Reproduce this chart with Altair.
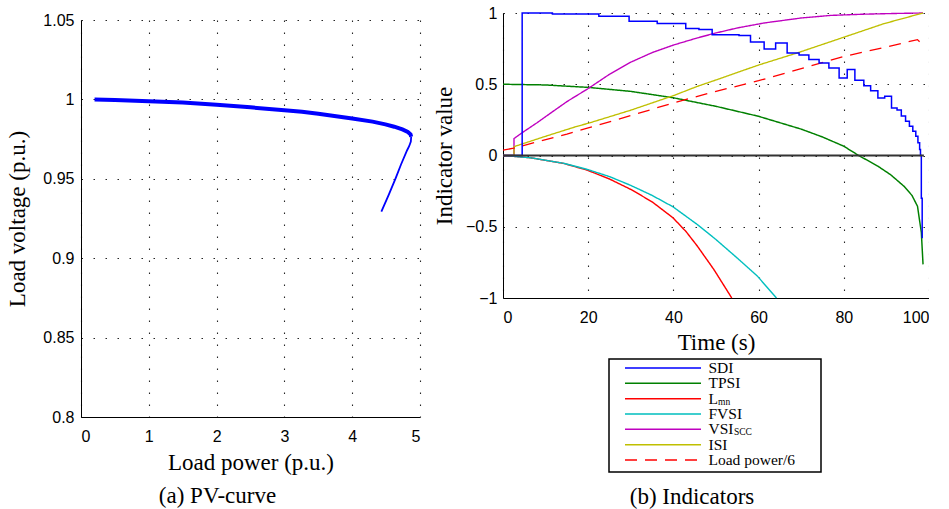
import altair as alt
import pandas as pd

# ---------------- (a) PV-curve data ----------------
pv_upper_p = [0.2, 0.5, 1.0, 1.5, 2.0, 2.5, 3.0, 3.26, 3.5, 4.0, 4.3, 4.49, 4.62, 4.74, 4.82, 4.86, 4.87]
pv_upper_v = [1.0, 0.9997, 0.9989, 0.998, 0.9966, 0.995, 0.9932, 0.9922, 0.991, 0.988, 0.986, 0.9843, 0.9828, 0.9811, 0.9795, 0.978, 0.9765]
pv_lower_p = [4.87, 4.865, 4.84, 4.81, 4.72, 4.64, 4.54, 4.43]
pv_lower_v = [0.9765, 0.9735, 0.9705, 0.968, 0.959, 0.9503, 0.940, 0.9293]

# ---------------- (b) Indicators data ----------------
sdi_t = [0, 4.5, 11.6, 22.5, 29.6, 36.2, 42.9, 46.0, 49.1, 55.4, 58.1, 61.3, 64.0, 66.7, 69.5, 71.8, 74.2, 76.5, 78.9, 80.8,
         82.6, 84.7, 86.3, 88.0, 89.6, 91.2, 92.5, 93.5, 94.5, 95.4, 96.2, 96.9, 97.4, 97.8, 98.0, 98.2, 98.4]
sdi_v = [0, 1.0, 0.993, 0.978, 0.942, 0.927, 0.892, 0.885, 0.848, 0.842, 0.797, 0.748, 0.79, 0.72, 0.706, 0.673, 0.65, 0.614, 0.544, 0.603,
         0.528, 0.49, 0.455, 0.404, 0.416, 0.334, 0.32, 0.278, 0.24, 0.205, 0.17, 0.135, 0.089, 0.042, 0.0, -0.3, -0.58]
tpsi_t = [0, 10, 20, 30, 40, 50, 60, 70, 75, 80, 83.5, 88, 91, 94.1, 96, 97.3, 98.2, 98.6]
tpsi_v = [0.5, 0.495, 0.478, 0.45, 0.405, 0.345, 0.275, 0.185, 0.13, 0.065, 0.0, -0.075, -0.135, -0.215, -0.28, -0.356, -0.54, -0.764]
lmn_t = [0, 6.5, 14.3, 19.8, 25, 30, 35, 39.9, 43, 45.6, 49.5, 53.7]
lmn_v = [0, -0.016, -0.056, -0.103, -0.165, -0.238, -0.325, -0.437, -0.535, -0.635, -0.8, -1.0]
fvsi_t = [0, 6.5, 14.3, 19.8, 25, 30, 35, 39.9, 45.6, 50, 55, 59.7, 64.2]
fvsi_v = [0, -0.016, -0.055, -0.098, -0.148, -0.21, -0.28, -0.36, -0.484, -0.59, -0.72, -0.846, -1.0]
vsi_t = [0, 2.58, 2.58, 4.5, 8, 12, 15.1, 20, 25, 30, 35, 40, 45.6, 50, 55, 61.3, 70, 76.9, 85, 92.6, 98.6]
vsi_v = [0, 0, 0.119, 0.16, 0.23, 0.315, 0.38, 0.47, 0.57, 0.655, 0.722, 0.775, 0.825, 0.86, 0.895, 0.93, 0.965, 0.983, 0.992, 0.997, 1.0]
isi_t = [0, 2.58, 2.58, 10, 17.4, 20, 30, 40, 45.6, 50, 60, 69.1, 80, 89.4, 98.6]
isi_v = [0, 0, 0.062, 0.135, 0.205, 0.226, 0.318, 0.42, 0.485, 0.53, 0.635, 0.72, 0.83, 0.925, 1.0]
load_t = [0, 2.5, 8, 15, 20, 30, 40, 50, 60, 70, 80, 88, 94, 97.3, 98.5]
load_v = [0.037, 0.052, 0.095, 0.15, 0.194, 0.28, 0.369, 0.45, 0.525, 0.61, 0.695, 0.748, 0.79, 0.813, 0.778]
zero_t = [0, 98.8]
zero_v = [0, 0]

series_names = ["SDI", "TPSI", "Lmn", "FVSI", "VSIscc", "ISI", "Load power/6"]
legend_main = ["SDI", "TPSI", "L", "FVSI", "VSI", "ISI", "Load power/6"]
legend_sub = ["", "", "mn", "", "SCC", "", ""]
series_colors = ["#0000ff", "#008000", "#ff0000", "#00bfbf", "#bf00bf", "#bfbf00", "#ff0000"]
series_dash = [[1, 0], [1, 0], [1, 0], [1, 0], [1, 0], [1, 0], [12, 8]]
series_width = [1.5, 1.3, 2.2, 2.2, 1.3, 1.3, 1.6]

SANS = "Liberation Sans"
SERIF = "Liberation Serif"

# ---------------- build tables ----------------
pv_rows = []
for i, (p, v) in enumerate(zip(pv_upper_p, pv_upper_v)):
    pv_rows.append({"P": p, "V": v, "k": i, "branch": "upper"})
for i, (p, v) in enumerate(zip(pv_lower_p, pv_lower_v)):
    pv_rows.append({"P": p, "V": v, "k": i, "branch": "lower"})
pv_df = pd.DataFrame(pv_rows)

series_data = [(sdi_t, sdi_v), (tpsi_t, tpsi_v), (lmn_t, lmn_v), (fvsi_t, fvsi_v),
               (vsi_t, vsi_v), (isi_t, isi_v), (load_t, load_v)]
ind_rows = []
for name, (ts, vs) in zip(series_names, series_data):
    for k, (t, v) in enumerate(zip(ts, vs)):
        ind_rows.append({"series": name, "t": t, "v": v, "k": k})
ind_df = pd.DataFrame(ind_rows)
zero_df = pd.DataFrame({"t": zero_t, "v": zero_v})
leg_df = pd.DataFrame({"series": series_names, "main": legend_main, "sub": legend_sub})


def axis(values, **kw):
    base = dict(values=values, format="~r", labelFont=SANS, labelFontSize=16, labelColor="black",
                titleFont=SERIF, titleFontSize=23, titleFontWeight="normal", titleColor="black",
                domainColor="black", domainWidth=1, ticks=False, grid=True, gridColor="black",
                gridDash=[1.5, 10.5], gridWidth=1.1, gridOpacity=0.85)
    base.update(kw)
    return alt.Axis(**base)


# ---------------- left panel ----------------
xpv = alt.X("P:Q", scale=alt.Scale(domain=[0, 5], nice=False),
            axis=axis([0, 1, 2, 3, 4, 5], title="Load power (p.u.)", labelPadding=11, titlePadding=7))
ypv = alt.Y("V:Q", scale=alt.Scale(domain=[0.8, 1.05], nice=False, zero=False),
            axis=axis([0.8, 0.85, 0.9, 0.95, 1.0, 1.05], title="Load voltage (p.u.)", labelPadding=7, titlePadding=13))

pv_base = alt.Chart(pv_df)
pv_up = pv_base.transform_filter(alt.datum.branch == "upper").mark_line(color="#0000ff", strokeWidth=4).encode(
    x=xpv, y=ypv, order="k:Q")
pv_low = pv_base.transform_filter(alt.datum.branch == "lower").mark_line(color="#0000ff", strokeWidth=1.8).encode(
    x=xpv, y=ypv, order="k:Q")

left_plot = alt.layer(pv_up, pv_low).properties(
    width=339, height=397,
    title=alt.TitleParams("(a) PV-curve", orient="bottom", anchor="middle", font=SERIF, fontSize=23,
                          fontWeight="normal", color="black", offset=11, dx=-33))

# invisible spacer that lowers the left plot a little relative to the right one
spacer = alt.Chart(pd.DataFrame({"s": [0]})).mark_point(opacity=0).properties(width=339, height=1)
left = alt.vconcat(spacer, left_plot, spacing=6, bounds="flush")

# ---------------- right panel ----------------
xt = alt.X("t:Q", scale=alt.Scale(domain=[0, 100], nice=False),
           axis=axis([0, 20, 40, 60, 80, 100], title="Time (s)", labelPadding=11, titlePadding=6))
yv = alt.Y("v:Q", scale=alt.Scale(domain=[-1, 1], nice=False),
           axis=axis([-1, -0.5, 0, 0.5, 1], title="Indicator value", labelPadding=6, titlePadding=9))
color_enc = alt.Color("series:N", scale=alt.Scale(domain=series_names, range=series_colors), legend=None)
dash_enc = alt.StrokeDash("series:N", scale=alt.Scale(domain=series_names, range=series_dash), legend=None)
size_enc = alt.Size("series:N", scale=alt.Scale(domain=series_names, range=series_width), legend=None)

ind_base = alt.Chart(ind_df)
others = ind_base.transform_filter(alt.datum.series != "SDI").mark_line().encode(
    x=xt, y=yv, color=color_enc, strokeDash=dash_enc, size=size_enc, detail="series:N", order="k:Q")
sdi = ind_base.transform_filter(alt.datum.series == "SDI").mark_line(interpolate="step-after").encode(
    x=xt, y=yv, color=color_enc, size=size_enc, order="k:Q")
zero = alt.Chart(zero_df).mark_line(color="#333333", strokeWidth=2).encode(x=xt, y=yv)

plot_layers = alt.layer(others, sdi, zero)

# ---------------- legend (drawn below the plot area) ----------------
yl = alt.Y("series:N", scale=alt.Scale(type="point", domain=series_names, range=[355, 447], padding=0), axis=None)
leg_base = alt.Chart(leg_df)
leg_box = alt.Chart(pd.DataFrame({"box": [0]})).mark_rect(
    fillOpacity=0, stroke="black", strokeWidth=1.5).encode(
    x=alt.value(106), x2=alt.value(318), y=alt.value(346), y2=alt.value(459))
leg_lines = leg_base.mark_rule(strokeWidth=1.5).encode(
    x=alt.value(122), x2=alt.value(198), y=yl, color=color_enc, strokeDash=dash_enc)
leg_text = leg_base.mark_text(align="left", baseline="middle", font=SERIF, fontSize=15.5, color="black").encode(
    x=alt.value(205.5), y=yl, text="main:N")
leg_sub_l = leg_base.transform_filter(alt.datum.series == "Lmn").mark_text(
    align="left", baseline="middle", font=SERIF, fontSize=9.5, color="black", dy=3).encode(
    x=alt.value(215), y=yl, text="sub:N")
leg_sub_v = leg_base.transform_filter(alt.datum.series == "VSIscc").mark_text(
    align="left", baseline="middle", font=SERIF, fontSize=9.5, color="black", dy=3).encode(
    x=alt.value(231), y=yl, text="sub:N")
legend_layers = alt.layer(leg_box, leg_lines, leg_text, leg_sub_l, leg_sub_v)

right = alt.layer(plot_layers, legend_layers).resolve_scale(y="independent").properties(
    width=426, height=285,
    title=alt.TitleParams("(b) Indicators", orient="bottom", anchor="middle", font=SERIF, fontSize=23,
                          fontWeight="normal", color="black", offset=13, dx=-24))

chart = alt.hconcat(left, right, spacing=13).properties(
    padding={"left": 6, "top": 5, "right": 0, "bottom": 0}
).configure_view(stroke=None)

chart.save("out.html", embed_options={"renderer": "svg", "actions": False})
